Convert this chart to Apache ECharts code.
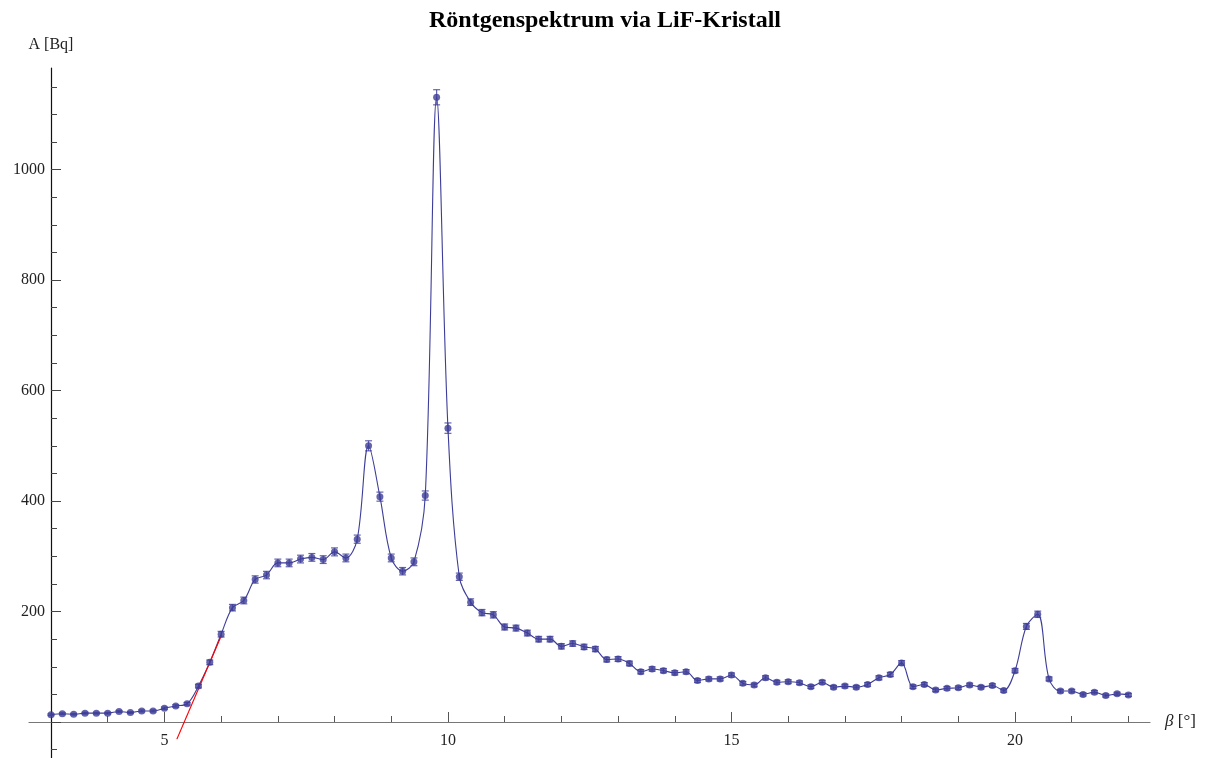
<!DOCTYPE html>
<html>
<head>
<meta charset="utf-8">
<script src="https://cdn.jsdelivr.net/npm/echarts@6/dist/echarts.min.js"></script>
<style>
  html, body { margin: 0; padding: 0; background: #fff; }
  #chart { width: 1210px; height: 758px; }
</style>
</head>
<body>
<div id="chart"></div>
<script>
// Angle β [°]
const betas = [
  3.0, 3.2, 3.4, 3.6, 3.8, 4.0, 4.2, 4.4, 4.6, 4.8,
  5.0, 5.2, 5.4, 5.6, 5.8, 6.0, 6.2, 6.4, 6.6, 6.8,
  7.0, 7.2, 7.4, 7.6, 7.8, 8.0, 8.2, 8.4, 8.6, 8.8,
  9.0, 9.2, 9.4, 9.6, 9.8, 10.0, 10.2, 10.4, 10.6, 10.8,
  11.0, 11.2, 11.4, 11.6, 11.8, 12.0, 12.2, 12.4, 12.6, 12.8,
  13.0, 13.2, 13.4, 13.6, 13.8, 14.0, 14.2, 14.4, 14.6, 14.8,
  15.0, 15.2, 15.4, 15.6, 15.8, 16.0, 16.2, 16.4, 16.6, 16.8,
  17.0, 17.2, 17.4, 17.6, 17.8, 18.0, 18.2, 18.4, 18.6, 18.8,
  19.0, 19.2, 19.4, 19.6, 19.8, 20.0, 20.2, 20.4, 20.6, 20.8,
  21.0, 21.2, 21.4, 21.6, 21.8, 22.0
];
// Activity A [Bq]
const activity = [
  13, 15, 14, 16, 16, 16, 19, 17, 20, 20,
  25, 29, 33, 65, 108, 159, 207, 220, 258, 266,
  288, 288, 295, 298, 294, 308, 297, 331, 500, 408,
  297, 273, 290, 410, 1131, 532, 263, 217, 198, 194,
  172, 170, 161, 150, 150, 137, 142, 136, 132, 113,
  114, 106, 91, 96, 93, 89, 91, 75, 78, 78,
  85, 70, 67, 80, 72, 73, 71, 64, 72, 63,
  65, 63, 68, 80, 86, 107, 64, 68, 58, 61,
  62, 67, 63, 66, 57, 93, 173, 195, 78, 56,
  56, 50, 54, 48, 51, 49
];
// Error bar half-lengths [Bq]
const errors = [
  1.5, 1.6, 1.5, 1.6, 1.6, 1.6, 1.8, 1.7, 1.8, 1.8,
  2.0, 2.2, 2.3, 3.3, 4.2, 5.1, 5.9, 6.1, 6.6, 6.7,
  6.9, 6.9, 7.0, 7.0, 7.0, 7.2, 7.0, 7.4, 9.1, 8.2,
  7.0, 6.7, 7.0, 8.3, 13.7, 9.4, 6.6, 6.0, 5.7, 5.7,
  5.4, 5.3, 5.2, 5.0, 5.0, 4.8, 4.9, 4.8, 4.7, 4.3,
  4.4, 4.2, 3.9, 4.0, 3.9, 3.9, 3.9, 3.5, 3.6, 3.6,
  3.8, 3.4, 3.3, 3.7, 3.5, 3.5, 3.4, 3.3, 3.5, 3.2,
  3.3, 3.2, 3.4, 3.7, 3.8, 4.2, 3.3, 3.4, 3.1, 3.2,
  3.2, 3.3, 3.2, 3.3, 3.1, 3.9, 5.4, 5.7, 3.6, 3.1,
  3.1, 2.9, 3.0, 2.8, 2.9, 2.9
];
// Red tangent line (rising edge)
const tangentBeta = [5.22, 6.01];
const tangentA = [-31, 158];

// Tick values
const xMajorTicks = [5, 10, 15, 20];
const xMinorTicks = [4, 6, 7, 8, 9, 11, 12, 13, 14, 16, 17, 18, 19, 21, 22];
const yMajorTicks = [0, 200, 400, 600, 800, 1000];
const yLabelValues = [200, 400, 600, 800, 1000];
const yMinorTicks = [50, 100, 150, 250, 300, 350, 450, 500, 550, 650, 700, 750, 850, 900, 950, 1050, 1100, 1150];
const yNegMinorTicks = [-50];

const titleText = 'Röntgenspektrum via LiF-Kristall';
const yName = 'A [Bq]';

const X_MIN = 3, X_MAX = 22.38, Y_MIN = 0, Y_MAX = 1184, Y_NEG_MIN = -65;
const SERIF = '"Liberation Serif", "DejaVu Serif", serif';
const BLUE = '#3d3d99';

const points = betas.map((b, i) => [b, activity[i]]);
const errData = betas.map((b, i) => [b, activity[i], errors[i]]);
const tangent = tangentBeta.map((b, i) => [b, tangentA[i]]);

const chart = echarts.init(document.getElementById('chart'), null, { renderer: 'canvas' });

const hiddenAxis = (gi, min, max) => ({
  type: 'value', gridIndex: gi, min: min, max: max, show: false,
  axisLine: { show: false, onZero: false }, axisTick: { show: false },
  axisLabel: { show: false }, splitLine: { show: false }
});

const option = {
  animation: false,
  backgroundColor: '#ffffff',
  title: {
    text: titleText,
    left: 'center',
    top: 4,
    textStyle: { fontFamily: SERIF, fontSize: 24, fontWeight: 'bold', color: '#000' }
  },
  grid: [
    // main plot: x axis sits at A = 0 (y = 722)
    { left: 51, top: 68, width: 1099, height: 654, containLabel: false, outerBoundsMode: 'none' },
    // short x-axis stub left of the y axis
    { left: 29, top: 712, width: 22, height: 10, containLabel: false, outerBoundsMode: 'none' },
    // y axis continuation below A = 0
    { left: 51, top: 722, width: 10, height: 36, containLabel: false, outerBoundsMode: 'none' }
  ],
  xAxis: [
    {
      type: 'value', gridIndex: 0, min: X_MIN, max: X_MAX, position: 'bottom',
      name: '{i|β} [°]',
      nameLocation: 'end', nameGap: 15,
      nameTextStyle: {
        fontFamily: SERIF, fontSize: 17, color: '#222', verticalAlign: 'middle',
        rich: { i: { fontFamily: SERIF, fontSize: 17, fontStyle: 'italic', color: '#222' } }
      },
      axisLine: { show: true, onZero: false, lineStyle: { color: '#777', width: 1.2 } },
      axisTick: { show: true, inside: true, length: 10, customValues: xMajorTicks, lineStyle: { color: '#555', width: 1 } },
      axisLabel: { show: true, customValues: xMajorTicks, margin: 11, fontFamily: SERIF, fontSize: 16, color: '#222',
        formatter: function (v) { return String(v); } },
      splitLine: { show: false }
    },
    {
      type: 'value', gridIndex: 0, min: X_MIN, max: X_MAX, position: 'bottom',
      axisLine: { show: false, onZero: false },
      axisTick: { show: true, inside: true, length: 6, customValues: xMinorTicks, lineStyle: { color: '#555', width: 1 } },
      axisLabel: { show: false },
      splitLine: { show: false }
    },
    {
      type: 'value', gridIndex: 1, min: 0, max: 1, position: 'bottom',
      axisLine: { show: true, onZero: false, lineStyle: { color: '#777', width: 1.2 } },
      axisTick: { show: false },
      axisLabel: { show: false },
      splitLine: { show: false }
    },
    hiddenAxis(2, 0, 1)
  ],
  yAxis: [
    {
      type: 'value', gridIndex: 0, min: Y_MIN, max: Y_MAX, position: 'left',
      name: yName,
      nameLocation: 'end', nameGap: 15,
      nameTextStyle: { fontFamily: SERIF, fontSize: 16, color: '#222', align: 'center' },
      axisLine: { show: true, onZero: false, lineStyle: { color: '#111', width: 1.2 } },
      axisTick: { show: true, inside: true, length: 10, customValues: yMajorTicks, lineStyle: { color: '#444', width: 1 } },
      axisLabel: { show: true, customValues: yLabelValues, margin: 6, fontFamily: SERIF, fontSize: 16, color: '#222',
        formatter: function (v) { return String(v); } },
      splitLine: { show: false }
    },
    {
      type: 'value', gridIndex: 0, min: Y_MIN, max: Y_MAX, position: 'left', offset: 0,
      axisLine: { show: false, onZero: false },
      axisTick: { show: true, inside: true, length: 6, customValues: yMinorTicks, lineStyle: { color: '#444', width: 1 } },
      axisLabel: { show: false },
      splitLine: { show: false }
    },
    hiddenAxis(1, 0, 1),
    {
      type: 'value', gridIndex: 2, min: Y_NEG_MIN, max: 0, position: 'left',
      axisLine: { show: true, onZero: false, lineStyle: { color: '#111', width: 1.2 } },
      axisTick: { show: true, inside: true, length: 6, customValues: yNegMinorTicks, lineStyle: { color: '#444', width: 1 } },
      axisLabel: { show: false },
      splitLine: { show: false }
    }
  ],
  series: [
    {
      name: 'curve', type: 'line', xAxisIndex: 0, yAxisIndex: 0,
      data: points, smooth: 0.35, showSymbol: false, symbol: 'none', clip: false,
      lineStyle: { color: BLUE, width: 1.1 }, z: 2, silent: true
    },
    {
      name: 'tangent', type: 'line', xAxisIndex: 0, yAxisIndex: 0,
      data: tangent, showSymbol: false, symbol: 'none', clip: false,
      lineStyle: { color: '#ff0000', width: 1.2 }, z: 3, silent: true
    },
    {
      name: 'errors', type: 'custom', xAxisIndex: 0, yAxisIndex: 0, clip: false,
      data: errData, encode: { x: 0, y: 1 }, z: 4, silent: true,
      renderItem: function (params, api) {
        const x = api.value(0), y = api.value(1), e = api.value(2);
        const top = api.coord([x, y + e]);
        const bot = api.coord([x, y - e]);
        const hw = 3.5;
        const st = { stroke: 'rgba(61,61,153,0.8)', lineWidth: 1.2 };
        return {
          type: 'group',
          children: [
            { type: 'line', shape: { x1: top[0], y1: top[1], x2: bot[0], y2: bot[1] }, style: st },
            { type: 'line', shape: { x1: top[0] - hw, y1: top[1], x2: top[0] + hw, y2: top[1] }, style: st },
            { type: 'line', shape: { x1: bot[0] - hw, y1: bot[1], x2: bot[0] + hw, y2: bot[1] }, style: st }
          ]
        };
      }
    },
    {
      name: 'points', type: 'scatter', xAxisIndex: 0, yAxisIndex: 0, clip: false,
      data: points, symbol: 'circle', symbolSize: 7,
      itemStyle: { color: BLUE }, z: 5, silent: true
    }
  ]
};
chart.setOption(option);
</script>
</body>
</html>
